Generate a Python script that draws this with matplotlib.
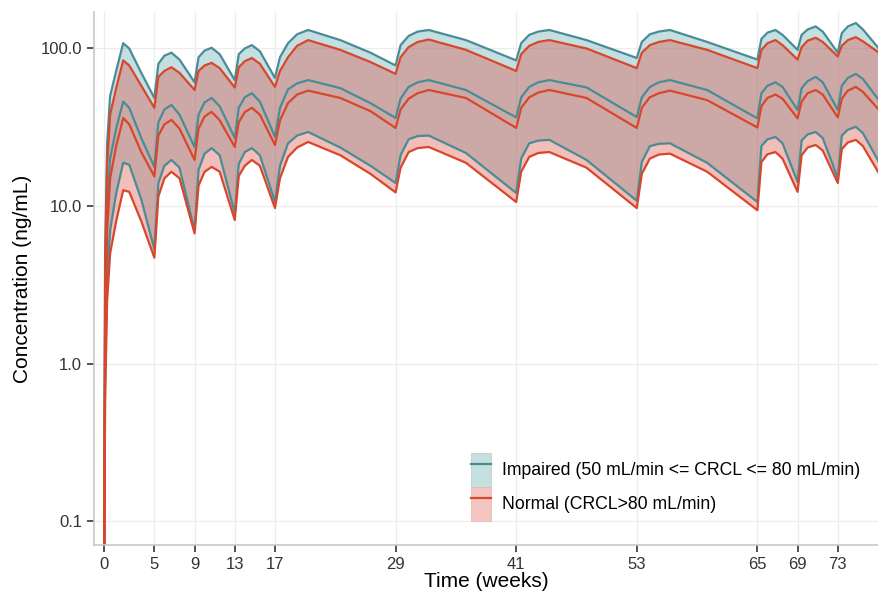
import numpy as np
import matplotlib
matplotlib.use("Agg")
import matplotlib.pyplot as plt
from matplotlib.patches import Patch
from matplotlib.lines import Line2D

plt.rcParams['font.family'] = ['Liberation Sans', 'DejaVu Sans']

# simulated exposure, weeks since first dose
weeks = [0, 0.1, 0.3, 0.6, 1.2, 1.9, 2.5, 3.7, 5.0,
         5.4, 6.0, 6.7, 7.5, 9.0,
         9.4, 10.0, 10.7, 11.5, 13.0,
         13.4, 14.0, 14.7, 15.5, 17.0,
         17.5, 18.3, 19.2, 20.3, 23.5, 26.5, 29.0,
         29.5, 30.3, 31.2, 32.3, 36.0, 41.0,
         41.5, 42.3, 43.2, 44.3, 48.0, 53.0,
         53.5, 54.3, 55.2, 56.3, 60.0, 65.0,
         65.4, 66.0, 66.8, 67.5, 69.0,
         69.4, 70.0, 70.8, 71.5, 73.0,
         73.4, 74.0, 74.8, 75.5, 77.2]

# impaired renal function: 5th pct, median, 95th pct (ng/mL)
imp_lo = [0.03, 0.8, 3.5, 7, 12, 18.8, 18.3, 11, 5.3,
          14, 18, 19.6, 17.5, 7.0,
          17, 21.5, 23.3, 21, 9.0,
          18.5, 22, 23.3, 21, 10.6,
          18, 25, 28, 29.5, 23.5, 18, 14,
          21, 26.5, 27.8, 28, 21.7, 12.1,
          20, 25, 26, 26.3, 19.6, 10.8,
          19, 24, 24.8, 25, 18.8, 10.6,
          24, 26.5, 27.4, 25, 14.2,
          26, 28.5, 29.5, 27, 15,
          28, 30.5, 31.8, 29, 18.5]
imp_med = [0.03, 2, 9, 20, 31, 46, 42, 27, 17.7,
           34, 41, 43.8, 38, 23.7,
           38, 45.5, 48.5, 43, 27,
           42, 49, 52, 46, 27.5,
           42, 55, 60, 63, 56, 45, 36.2,
           48, 57, 61, 63, 54.5, 36.5,
           49, 57, 61, 63, 56.6, 36.7,
           49, 57, 61, 63, 54.5, 36,
           52, 58, 61, 57, 40.7,
           56, 62, 66, 61, 40.7,
           58, 65, 69, 64, 46]
imp_hi = [0.03, 5, 25, 50, 72, 108, 100, 70, 48.5,
          80, 90, 94, 85, 61,
          88, 97, 101, 92, 63,
          92, 100, 105, 96, 65,
          88, 108, 123, 131, 113, 94, 78,
          105, 120, 128, 131, 113, 84,
          108, 122, 128, 131, 113, 87,
          110, 123, 128, 131, 110, 85,
          115, 126, 131, 122, 98,
          122, 132, 138, 128, 94,
          125, 138, 145, 132, 98]

# normal renal function
norm_lo = [0.03, 0.6, 2.5, 5, 8, 12.6, 12.3, 8, 4.7,
           11.5, 15, 16.5, 15, 6.7,
           13.5, 16.5, 17.7, 16.5, 8.15,
           15.5, 18, 19.6, 18, 9.7,
           15, 20.5, 23.5, 25.5, 21, 16, 12.2,
           17.5, 22, 23.3, 23.7, 18.8, 10.6,
           16.5, 20.5, 21.7, 22, 17.5, 9.7,
           16, 20, 21.2, 21.5, 16.5, 9.4,
           19, 21.3, 22, 20, 12.3,
           21, 23.5, 24.4, 22.5, 14,
           23, 25.3, 26.3, 24, 15.7]
norm_med = [0.03, 1.5, 7, 15, 24, 36.2, 33, 22, 15.4,
            28, 33, 35.2, 31, 19.6,
            31, 37, 39.6, 35, 23.7,
            34, 39.5, 42, 38, 24.4,
            35, 45, 51, 54, 48.5, 40, 31.3,
            41, 48, 52, 54.5, 48.5, 31.3,
            42, 49, 52.5, 54.5, 48.5, 31.3,
            42, 49, 52, 54, 47, 31.5,
            43, 48.5, 51, 48, 36,
            46, 52, 54.5, 51, 36.5,
            48, 54, 57, 53, 40]
norm_hi = [0.03, 4, 18, 38, 56, 84, 78, 58, 42,
           66, 72, 76, 70, 54.5,
           72, 78, 81, 75, 56.5,
           76, 83, 87, 80, 57,
           72, 88, 104, 113, 98, 82, 69,
           88, 102, 110, 114, 98, 72,
           92, 104, 110, 113, 100, 75,
           94, 105, 110, 113, 98, 75,
           98, 108, 113, 105, 85,
           102, 112, 117, 110, 89,
           104, 113, 118, 111, 93]

xticks = [0, 5, 9, 13, 17, 29, 41, 53, 65, 69, 73]
yticks = [0.1, 1.0, 10.0, 100.0]
ylabels = ['0.1', '1.0', '10.0', '100.0']

teal = '#4a8c96'
red = '#d8472c'

fig = plt.figure(figsize=(8.79, 5.96), dpi=100)
ax = fig.add_axes([0.107, 0.0856, 0.893, 0.894])

ax.fill_between(weeks, imp_lo, imp_hi, color='#3c96a0', alpha=0.3, lw=0)
ax.fill_between(weeks, norm_lo, norm_hi, color='#dc4637', alpha=0.35, lw=0)
for y in (imp_lo, imp_med, imp_hi):
    ax.plot(weeks, y, color=teal, lw=1.6)
for y in (norm_lo, norm_med, norm_hi):
    ax.plot(weeks, y, color=red, lw=1.6)

ax.set_yscale('log')
ax.set_xlim(-1.0, 77.1)
ax.set_ylim(0.0705, 170)
ax.set_xticks(xticks)
ax.set_yticks(yticks)
ax.set_yticklabels(ylabels)
ax.minorticks_off()
ax.grid(True, color='#ececec', lw=0.9)
ax.set_axisbelow(True)

for s in ('top', 'right'):
    ax.spines[s].set_visible(False)
for s in ('left', 'bottom'):
    ax.spines[s].set_color('#c8c8c8')
    ax.spines[s].set_linewidth(1.2)
ax.tick_params(direction='out', length=5, width=1.3, color='#444444',
               labelsize=12, labelcolor='#333333')

ax.set_xlabel('Time (weeks)', fontsize=15, labelpad=0)
ax.set_ylabel('Concentration (ng/mL)', fontsize=15, labelpad=6)

handles = [(Patch(facecolor='#c4e0df', edgecolor='#b8c8c8', lw=0.5),
            Line2D([], [], color=teal, lw=1.6)),
           (Patch(facecolor='#f5c6c1', edgecolor='#e0b8b4', lw=0.5),
            Line2D([], [], color=red, lw=1.6))]
ax.legend(handles, ['Impaired (50 mL/min <= CRCL <= 80 mL/min)',
                    'Normal (CRCL>80 mL/min)'],
          loc='upper left', bbox_to_anchor=(0.469, 0.19), frameon=False,
          fontsize=12.7, handlelength=1.15, handleheight=2.6,
          labelspacing=0.0, handletextpad=0.6, borderpad=0)

fig.savefig('out.png', dpi=100)
